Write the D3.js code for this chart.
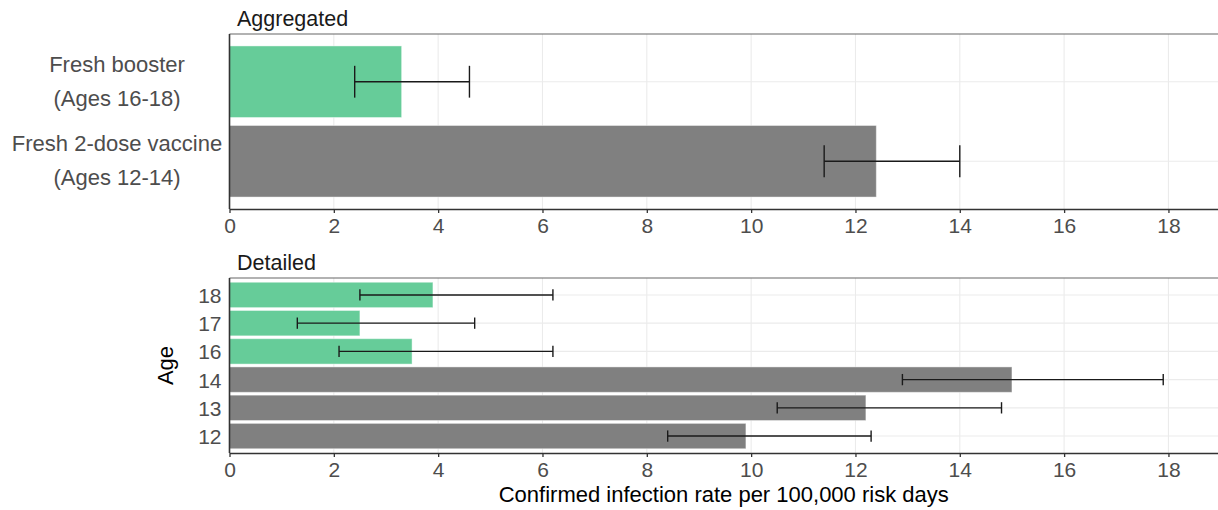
<!DOCTYPE html>
<html lang="en">
<head>
    <meta charset="UTF-8">
    <title>Infection rate by vaccine group</title>
    <script src="https://cdn.jsdelivr.net/npm/d3@7"></script>
    <style>
        body {
            margin: 0;
            background: #fff;
        }

        svg text {
            font-family: "Liberation Sans", Arial, Helvetica, sans-serif;
        }

        .grid line {
            stroke: #ebebeb;
            stroke-width: 1.1;
        }

        .tick text {
            fill: #4d4d4d;
            font-size: 21px;
        }
    </style>
</head>
<body>
<script>
    // aggregated panel
    var aggLabels = [["Fresh booster", "(Ages 16-18)"], ["Fresh 2-dose vaccine", "(Ages 12-14)"]];
    var aggGroup = ["booster", "twodose"];
    var aggRate = [3.3, 12.4];
    var aggLow = [2.4, 11.4];
    var aggHigh = [4.6, 14.0];

    // detailed panel
    var ages = ["18", "17", "16", "14", "13", "12"];
    var ageGroup = ["booster", "booster", "booster", "twodose", "twodose", "twodose"];
    var ageRate = [3.9, 2.5, 3.5, 15.0, 12.2, 9.9];
    var ageLow = [2.5, 1.3, 2.1, 12.9, 10.5, 8.4];
    var ageHigh = [6.2, 4.7, 6.2, 17.9, 14.8, 12.3];

    var xTicks = [0, 2, 4, 6, 8, 10, 12, 14, 16, 18];

    var width = 1218;
    var height = 510;
    var left = 229.5;
    var colors = {booster: "#66cc99", twodose: "#808080"};

    var svg = d3.select("body")
            .append("svg")
            .attr("width", width)
            .attr("height", height);

    var x = d3.scaleLinear()
            .domain([0, 18.95])
            .range([left, width]);

    function panel(cfg) {
        var y = d3.scaleBand()
                .domain(cfg.keys)
                .range([cfg.top, cfg.bottom])
                .paddingInner(0.1)
                .paddingOuter(0.15);
        var step = y.step();

        var g = svg.append("g");

        // grid
        var grid = g.append("g").attr("class", "grid");
        grid.selectAll("line.v")
                .data(xTicks)
                .enter()
                .append("line")
                .attr("x1", function (d) { return x(d); })
                .attr("x2", function (d) { return x(d); })
                .attr("y1", cfg.top)
                .attr("y2", cfg.bottom);
        grid.selectAll("line.h")
                .data(cfg.keys)
                .enter()
                .append("line")
                .attr("x1", left)
                .attr("x2", width)
                .attr("y1", function (d) { return y(d) + y.bandwidth() / 2; })
                .attr("y2", function (d) { return y(d) + y.bandwidth() / 2; });

        // bars
        g.append("g")
                .selectAll("rect")
                .data(cfg.keys)
                .enter()
                .append("rect")
                .attr("x", x(0))
                .attr("y", function (d) { return y(d); })
                .attr("width", function (d, i) { return x(cfg.rate[i]) - x(0); })
                .attr("height", y.bandwidth())
                .attr("fill", function (d, i) { return colors[cfg.group[i]]; })
                .attr("stroke", "rgba(255,255,255,0.45)")
                .attr("stroke-width", 1);

        // error bars
        var eb = g.append("g")
                .attr("stroke", "#1a1a1a")
                .attr("stroke-width", 1.4)
                .selectAll("g")
                .data(cfg.keys)
                .enter()
                .append("g");
        var cap = step * 0.2;
        eb.append("line")
                .attr("x1", function (d, i) { return x(cfg.low[i]); })
                .attr("x2", function (d, i) { return x(cfg.high[i]); })
                .attr("y1", function (d) { return y(d) + y.bandwidth() / 2; })
                .attr("y2", function (d) { return y(d) + y.bandwidth() / 2; });
        eb.append("line")
                .attr("x1", function (d, i) { return x(cfg.low[i]); })
                .attr("x2", function (d, i) { return x(cfg.low[i]); })
                .attr("y1", function (d) { return y(d) + y.bandwidth() / 2 - cap; })
                .attr("y2", function (d) { return y(d) + y.bandwidth() / 2 + cap; });
        eb.append("line")
                .attr("x1", function (d, i) { return x(cfg.high[i]); })
                .attr("x2", function (d, i) { return x(cfg.high[i]); })
                .attr("y1", function (d) { return y(d) + y.bandwidth() / 2 - cap; })
                .attr("y2", function (d) { return y(d) + y.bandwidth() / 2 + cap; });

        // top border
        g.append("line")
                .attr("x1", left)
                .attr("x2", width)
                .attr("y1", cfg.top)
                .attr("y2", cfg.top)
                .attr("stroke", "#666")
                .attr("stroke-width", 1.2);

        // x axis
        var xa = g.append("g")
                .attr("transform", "translate(0," + cfg.bottom + ")")
                .call(d3.axisBottom(x).tickValues(xTicks).tickSize(4).tickPadding(5.5).tickSizeOuter(0));
        xa.select(".domain").attr("stroke", "#333").attr("stroke-width", 1.6);
        xa.selectAll(".tick line").attr("stroke", "#333").attr("stroke-width", 1.3);

        // left axis line
        g.append("line")
                .attr("x1", left)
                .attr("x2", left)
                .attr("y1", cfg.top)
                .attr("y2", cfg.bottom)
                .attr("stroke", "#333")
                .attr("stroke-width", 1.6);

        // panel title
        g.append("text")
                .attr("x", 237)
                .attr("y", cfg.top - 8)
                .attr("font-size", "21.5px")
                .attr("fill", "#1a1a1a")
                .text(cfg.title);

        return y;
    }

    var yAgg = panel({
        title: "Aggregated",
        top: 34, bottom: 209,
        keys: aggLabels.map(function (d) { return d.join(" "); }),
        group: aggGroup, rate: aggRate, low: aggLow, high: aggHigh
    });

    // two-line category labels, centred
    svg.append("g")
            .selectAll("text")
            .data(aggLabels)
            .enter()
            .append("text")
            .attr("text-anchor", "middle")
            .attr("font-size", "22px")
            .attr("fill", "#4d4d4d")
            .each(function (d) {
                var c = yAgg(d.join(" ")) + yAgg.bandwidth() / 2;
                var t = d3.select(this);
                t.append("tspan").attr("x", 117).attr("y", c - 9.8).text(d[0]);
                t.append("tspan").attr("x", 117).attr("y", c + 24).text(d[1]);
            });

    var yAge = panel({
        title: "Detailed",
        top: 278, bottom: 453,
        keys: ages,
        group: ageGroup, rate: ageRate, low: ageLow, high: ageHigh
    });

    var ya = svg.append("g")
            .attr("transform", "translate(" + left + ",0)")
            .call(d3.axisLeft(yAge).tickSize(0).tickPadding(8));
    ya.select(".domain").remove();
    ya.selectAll(".tick text").attr("dy", "0.38em");

    // axis titles
    svg.append("text")
            .attr("x", (left + width) / 2)
            .attr("y", 501.5)
            .attr("text-anchor", "middle")
            .attr("font-size", "22px")
            .attr("fill", "#000")
            .text("Confirmed infection rate per 100,000 risk days");

    svg.append("text")
            .attr("transform", "translate(173," + (278 + 453) / 2 + ") rotate(-90)")
            .attr("text-anchor", "middle")
            .attr("font-size", "22px")
            .attr("fill", "#000")
            .text("Age");
</script>
</body>
</html>
